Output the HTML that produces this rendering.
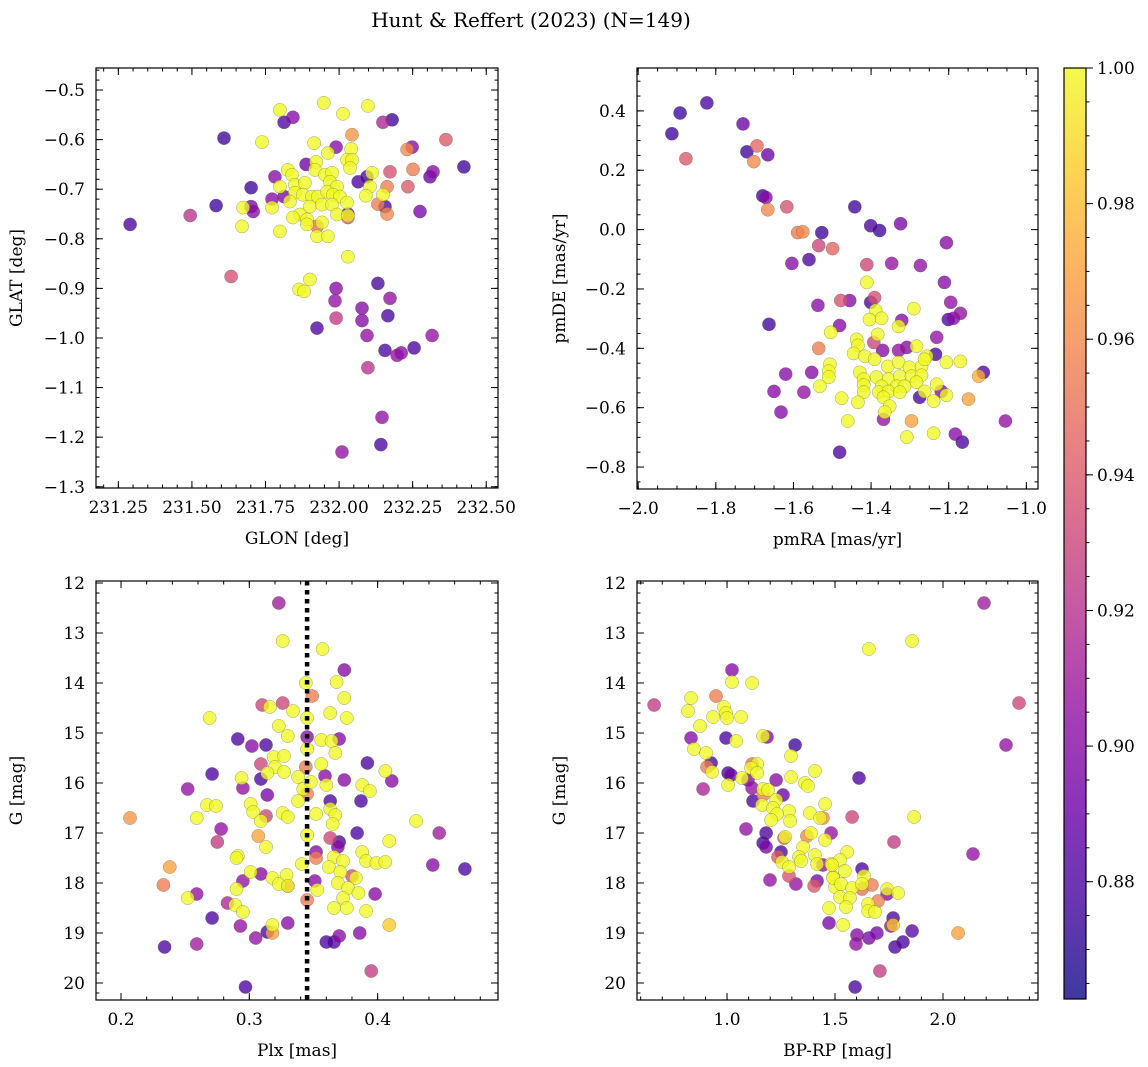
<!DOCTYPE html>
<html><head><meta charset="utf-8">
<style>
html,body{margin:0;padding:0;background:#fff;}
svg{display:block;font-family:"DejaVu Serif","Liberation Serif",serif;}
</style></head>
<body>
<svg id="fig" width="1148" height="1067" viewBox="0 0 1148 1067" xmlns="http://www.w3.org/2000/svg">
<text x="531" y="27" font-size="20" text-anchor="middle">Hunt &amp; Reffert (2023) (N=149)</text>
</svg>
<script>
// ---------- data ----------
const tlGlon=[231.29,231.494,231.609,231.582,231.633,231.701,231.701,231.708,231.813,231.843,231.782,231.772,231.813,231.888,231.99,232.044,232.065,232.095,232.173,232.231,232.248,232.149,232.18,232.251,232.234,232.163,232.319,232.309,232.275,232.132,232.156,232.163,232.03,232.03,231.925,232.363,232.424,231.99,231.986,231.99,231.925,232.078,232.078,232.095,232.098,232.132,232.173,232.166,232.156,232.197,232.211,232.255,232.316,232.146,232.142,232.01,
231.738,231.799,231.948,232.013,232.098,231.915,232.041,231.962,232.027,232.044,232.037,231.922,231.918,231.826,231.84,231.799,231.85,231.884,231.952,231.976,231.969,231.993,231.85,231.877,231.908,231.928,231.959,231.979,232.003,231.833,231.901,231.942,231.976,232.027,231.772,231.867,231.843,231.891,231.942,231.993,232.03,231.891,231.799,231.925,231.962,232.03,232.112,232.105,232.091,232.149,231.67,231.864,231.881,231.901,231.674];
const tlGlat=[-0.771,-0.753,-0.597,-0.733,-0.876,-0.697,-0.735,-0.745,-0.565,-0.555,-0.675,-0.72,-0.715,-0.65,-0.615,-0.59,-0.685,-0.675,-0.665,-0.62,-0.615,-0.565,-0.56,-0.66,-0.695,-0.695,-0.665,-0.675,-0.745,-0.73,-0.735,-0.75,-0.75,-0.757,-0.775,-0.60,-0.655,-0.90,-0.925,-0.96,-0.98,-0.94,-0.965,-0.995,-1.06,-0.89,-0.92,-0.955,-1.025,-1.035,-1.03,-1.02,-0.995,-1.16,-1.215,-1.23,
-0.605,-0.540,-0.526,-0.548,-0.532,-0.607,-0.619,-0.627,-0.641,-0.641,-0.657,-0.645,-0.661,-0.661,-0.671,-0.695,-0.691,-0.687,-0.671,-0.667,-0.685,-0.695,-0.707,-0.711,-0.715,-0.715,-0.705,-0.711,-0.715,-0.725,-0.735,-0.731,-0.731,-0.727,-0.737,-0.751,-0.757,-0.761,-0.767,-0.751,-0.753,-0.771,-0.785,-0.795,-0.795,-0.836,-0.667,-0.695,-0.713,-0.711,-0.775,-0.902,-0.906,-0.882,-0.737];
const tlProb=[0.88,0.92,0.875,0.875,0.935,0.875,0.895,0.90,0.88,0.90,0.90,0.90,0.895,0.89,0.90,0.965,0.88,0.88,0.935,0.96,0.90,0.915,0.875,0.955,0.94,0.955,0.90,0.89,0.895,0.955,0.88,0.96,0.88,0.94,0.95,0.94,0.875,0.90,0.905,0.925,0.88,0.90,0.90,0.905,0.92,0.88,0.905,0.88,0.88,0.905,0.90,0.88,0.905,0.905,0.88,0.905,
1,1,1,1,1,1,1,1,1,1,1,1,1,1,1,1,1,1,1,1,1,1,1,1,1,1,1,1,1,1,1,1,1,1,1,1,1,1,1,1,1,1,1,1,1,1,1,1,1,1,1,1,1,1,1];

const trPmra=[-1.913,-1.892,-1.823,-1.730,-1.720,-1.694,-1.702,-1.666,-1.679,-1.671,-1.666,-1.877,-1.617,-1.589,-1.576,-1.604,-1.527,-1.535,-1.499,-1.442,-1.401,-1.378,-1.324,-1.206,-1.560,-1.411,-1.347,-1.273,-1.211,-1.537,-1.478,-1.455,-1.401,-1.391,-1.195,-1.201,-1.188,-1.170,-1.481,-1.321,-1.393,-1.370,-1.329,-1.308,-1.231,-1.234,-1.535,-1.553,-1.573,-1.111,-1.275,-1.219,-1.149,-1.368,-1.296,-1.183,-1.165,-1.054,-1.481,-1.663,-1.632,-1.620,-1.650,
-1.411,-1.290,-1.388,-1.404,-1.373,-1.329,-1.504,-1.383,-1.437,-1.434,-1.445,-1.416,-1.391,-1.283,-1.257,-1.506,-1.509,-1.509,-1.532,-1.429,-1.357,-1.329,-1.301,-1.270,-1.262,-1.206,-1.170,-1.419,-1.419,-1.386,-1.355,-1.326,-1.296,-1.270,-1.419,-1.373,-1.334,-1.314,-1.283,-1.231,-1.262,-1.380,-1.355,-1.326,-1.368,-1.239,-1.206,-1.476,-1.434,-1.352,-1.365,-1.460,-1.308,-1.239,-1.123];
const trPmde=[0.323,0.393,0.427,0.356,0.262,0.282,0.229,0.252,0.114,0.108,0.067,0.239,0.077,-0.010,-0.007,-0.114,-0.010,-0.054,-0.064,0.077,0.013,-0.003,0.020,-0.044,-0.101,-0.118,-0.114,-0.121,-0.178,-0.255,-0.239,-0.239,-0.245,-0.229,-0.245,-0.303,-0.299,-0.282,-0.323,-0.306,-0.380,-0.407,-0.407,-0.397,-0.363,-0.420,-0.400,-0.481,-0.548,-0.481,-0.565,-0.545,-0.571,-0.639,-0.645,-0.689,-0.716,-0.645,-0.750,-0.319,-0.615,-0.487,-0.545,
-0.178,-0.266,-0.272,-0.303,-0.299,-0.326,-0.346,-0.353,-0.370,-0.390,-0.417,-0.427,-0.437,-0.393,-0.427,-0.454,-0.477,-0.497,-0.528,-0.481,-0.461,-0.447,-0.464,-0.461,-0.437,-0.447,-0.444,-0.504,-0.524,-0.497,-0.504,-0.494,-0.494,-0.491,-0.548,-0.528,-0.528,-0.528,-0.514,-0.521,-0.545,-0.548,-0.545,-0.548,-0.565,-0.578,-0.558,-0.568,-0.582,-0.595,-0.615,-0.645,-0.699,-0.686,-0.494];
const trProb=[0.875,0.875,0.88,0.89,0.875,0.945,0.96,0.89,0.875,0.90,0.96,0.94,0.935,0.955,0.96,0.90,0.875,0.93,0.945,0.875,0.88,0.875,0.895,0.90,0.88,0.93,0.905,0.905,0.90,0.90,0.935,0.90,0.88,0.935,0.905,0.88,0.90,0.905,0.90,0.90,0.93,0.90,0.905,0.90,0.905,0.88,0.955,0.90,0.905,0.88,0.88,0.90,0.97,0.905,0.97,0.90,0.88,0.905,0.88,0.875,0.90,0.90,0.90,
1,1,1,1,1,1,1,1,1,1,1,1,1,1,1,1,1,1,1,1,1,1,1,1,1,1,1,1,1,1,1,1,1,1,1,1,1,1,1,1,1,1,1,1,1,1,1,1,1,1,1,1,1,1,0.975];

const blPlx=[0.323,0.326,0.344,0.310,0.316,0.326,0.334,0.269,0.345,0.323,0.330,0.291,0.302,0.313,0.345,0.319,0.327,0.345,0.309,0.320,0.314,0.327,0.344,0.271,0.294,0.309,0.338,0.295,0.252,0.314,0.342,0.338,0.345,0.267,0.274,0.301,0.303,0.313,0.309,0.326,0.330,0.207,0.259,0.278,0.275,0.307,0.313,0.345,0.291,0.290,0.341,0.238,0.301,0.309,0.295,0.318,0.329,0.323,0.330,0.330,0.233,0.290,0.252,0.259,0.283,0.289,0.295,0.345,0.271,0.293,0.318,0.314,0.318,0.330,0.305,0.234,0.259,0.297,
0.357,0.374,0.368,0.349,0.374,0.363,0.376,0.356,0.364,0.370,0.367,0.392,0.356,0.406,0.359,0.411,0.374,0.348,0.360,0.388,0.394,0.363,0.387,0.363,0.367,0.352,0.365,0.430,0.448,0.363,0.384,0.409,0.370,0.369,0.352,0.388,0.352,0.366,0.391,0.373,0.399,0.406,0.443,0.468,0.362,0.371,0.380,0.383,0.351,0.369,0.377,0.353,0.385,0.398,0.373,0.366,0.376,0.391,0.409,0.370,0.386,0.360,0.366,0.395];
const blG=[12.40,13.16,14.0,14.44,14.48,14.40,14.56,14.70,14.70,14.86,15.06,15.12,15.26,15.24,15.08,15.48,15.46,15.32,15.62,15.68,15.80,15.78,15.68,15.82,15.90,15.92,15.88,16.10,16.12,16.24,16.12,16.36,16.22,16.44,16.46,16.42,16.58,16.66,16.76,16.60,16.68,16.70,16.70,16.92,17.18,17.06,17.28,17.04,17.46,17.50,17.62,17.68,17.78,17.82,17.96,17.90,17.84,18.02,18.06,18.06,18.04,18.12,18.30,18.22,18.40,18.44,18.58,18.34,18.70,18.86,18.84,18.98,19.00,18.80,19.10,19.28,19.22,20.08,
13.32,13.74,13.98,14.26,14.30,14.60,14.70,15.14,15.16,15.12,15.40,15.60,15.62,15.76,15.86,15.96,15.94,15.98,16.04,16.04,16.16,16.36,16.36,16.52,16.64,16.62,16.82,16.76,17.0,17.10,17.0,17.16,17.18,17.28,17.38,17.38,17.50,17.48,17.56,17.56,17.60,17.58,17.64,17.72,17.68,17.78,17.86,17.90,17.96,18.0,18.10,18.14,18.20,18.22,18.30,18.50,18.50,18.56,18.84,19.06,19.0,19.18,19.18,19.76];
const blProb=[0.91,1,1,0.93,1,0.93,1,1,1,1,1,0.88,0.90,0.88,0.90,1,1,1,0.93,1,1,1,0.955,0.88,1,0.88,1,0.905,0.905,0.895,1,1,0.955,1,1,1,1,0.93,1,1,1,0.965,1,0.905,0.925,0.97,1,1,1,1,1,0.97,1,0.90,0.905,1,1,1,0.94,1,0.955,1,1,0.905,0.915,1,1,0.955,0.88,0.905,1,0.88,0.97,0.90,0.905,0.88,0.91,0.88,
1,0.90,1,0.955,1,1,1,1,1,0.90,1,0.88,1,1,0.90,0.90,0.90,1,1,1,1,0.88,0.88,1,1,1,1,1,0.91,0.93,0.88,1,0.88,0.90,0.90,1,0.955,1,1,1,1,1,0.90,0.88,1,1,0.935,1,0.90,1,1,1,1,0.90,1,1,1,1,0.985,0.90,0.90,0.88,0.88,0.925];

const brBprp=[1.023,1.023,1.116,0.662,0.949,0.833,0.819,0.986,0.995,1.0,0.935,1.065,0.875,0.833,0.995,1.042,1.167,1.185,1.315,1.296,0.847,0.903,0.926,0.907,0.931,1.116,1.139,1.111,1.139,1.407,1.005,1.019,1.005,1.069,0.889,1.097,1.227,1.296,1.361,1.375,1.116,1.167,1.190,1.259,1.167,1.120,1.162,1.227,1.213,1.454,1.287,1.232,1.204,1.292,1.384,1.431,1.444,1.088,1.181,1.269,1.264,1.370,1.389,1.482,1.454,1.167,1.181,1.352,1.250,1.236,1.255,1.333,1.343,1.407,1.417,1.444,1.482,1.287,1.287,1.199,1.319,1.417,1.403,1.491,1.500,1.472,1.472,
2.190,1.657,1.857,2.352,2.292,1.611,1.579,1.866,1.773,2.139,1.556,1.523,1.486,1.546,1.625,1.634,1.491,1.528,1.579,1.625,1.671,1.625,1.741,1.741,1.792,1.523,1.569,1.699,1.653,1.551,1.653,1.685,1.537,1.769,1.769,1.759,1.857,2.070,1.602,1.597,1.657,1.694,1.778,1.815,1.708,1.593];
const brG=[13.74,13.98,14.0,14.44,14.26,14.30,14.56,14.48,14.60,14.70,14.68,14.68,14.86,15.10,15.10,15.16,15.06,15.08,15.24,15.46,15.32,15.40,15.60,15.68,15.78,15.62,15.62,15.70,15.80,15.76,15.80,15.84,16.04,15.90,16.12,15.94,15.94,15.88,16.0,16.06,16.10,16.12,16.14,16.24,16.24,16.36,16.44,16.34,16.50,16.42,16.56,16.62,16.74,16.76,16.60,16.70,16.70,16.92,17.0,17.08,17.10,17.06,17.0,17.0,17.14,17.20,17.28,17.28,17.38,17.48,17.58,17.48,17.56,17.44,17.62,17.64,17.62,17.68,17.86,17.94,18.02,17.96,18.06,17.88,18.08,18.50,18.80,
12.40,13.32,13.16,14.40,15.24,15.90,16.68,16.68,17.18,17.42,17.38,17.54,17.64,17.76,17.72,17.86,17.90,18.02,18.10,18.02,18.04,18.12,18.12,18.22,18.20,18.28,18.30,18.36,18.42,18.48,18.56,18.58,18.84,18.70,18.84,18.86,18.96,19.0,19.04,19.22,19.10,19.0,19.28,19.18,19.76,20.08];
const brProb=[0.90,1,1,0.925,0.955,1,1,1,1,1,1,1,1,0.90,0.88,1,1,0.90,0.875,1,1,1,0.88,0.955,1,0.95,1,1,1,1,0.88,0.89,1,1,0.915,0.90,0.90,1,1,1,0.905,1,1,0.89,0.955,0.88,1,1,1,1,1,1,1,1,1,1,0.96,0.905,0.88,1,0.94,0.96,1,0.905,1,0.88,0.895,1,0.88,0.94,1,1,1,1,1,0.905,1,1,0.935,0.905,0.905,0.895,0.94,1,1,1,0.895,
0.91,1,1,0.93,0.905,0.88,0.93,1,0.925,0.905,1,1,1,1,0.88,1,1,1,1,1,0.955,0.95,1,0.90,1,1,1,0.955,1,1,1,1,1,0.88,0.985,0.905,0.885,0.97,0.90,0.905,0.895,0.895,0.88,0.88,0.925,0.88];

const tlXTicks=[231.25,231.50,231.75,232.00,232.25,232.50];
const tlYTicks=[-0.5,-0.6,-0.7,-0.8,-0.9,-1.0,-1.1,-1.2,-1.3];
const trXTicks=[-2.0,-1.8,-1.6,-1.4,-1.2,-1.0];
const trYTicks=[0.4,0.2,0.0,-0.2,-0.4,-0.6,-0.8];
const blXTicks=[0.2,0.3,0.4];
const gTicks=[12,13,14,15,16,17,18,19,20];
const brXTicks=[1.0,1.5,2.0];
const cbTicks=[0.88,0.90,0.92,0.94,0.96,0.98,1.00];
const plxLine=[0.345];
const probMin=0.8627, probMax=1.0;

// ---------- drawing ----------
const NS='http://www.w3.org/2000/svg';
const fig=document.getElementById('fig');
const FS=17;
function mk(tag,attrs,parent){const e=document.createElementNS(NS,tag);for(const k in attrs)e.setAttribute(k,attrs[k]);(parent||fig).appendChild(e);return e;}
const plasma=[[13,8,135],[65,4,157],[106,0,168],[143,13,164],[177,42,144],[204,71,120],[225,100,98],[242,132,75],[252,166,54],[252,206,37],[240,249,33]];
function cmap(v){let t=(v-probMin)/(probMax-probMin);t=Math.max(0,Math.min(1,t));const f=t*10,i=Math.min(9,Math.floor(f)),r=f-i;const a=plasma[i],b=plasma[i+1];return 'rgb('+[0,1,2].map(k=>Math.round(a[k]+(b[k]-a[k])*r)).join(',')+')';}
function fmt(v,d){const s=Math.abs(v).toFixed(d);return (v<0&&Math.abs(v)>1e-9?'\u2212':'')+s;}

function panel(o){
  const g=mk('g',{});
  
  
  const sx=v=>o.x0+(v-o.xmin)/(o.xmax-o.xmin)*(o.x1-o.x0);
  const sy=v=>o.y1-(v-o.ymin)/(o.ymax-o.ymin)*(o.y1-o.y0);
  const clip=mk('clipPath',{id:'c'+o.name},g);
  mk('rect',{x:o.x0,y:o.y0,width:o.x1-o.x0,height:o.y1-o.y0},clip);
  const pts=mk('g',{'clip-path':'url(#c'+o.name+')'},g);
  
  
  const idx=o.xs.map((_,i)=>i).sort((a,b)=>o.ps[a]-o.ps[b]);
  idx.forEach(i=>{
    const c=mk('circle',{cx:sx(o.xs[i]).toFixed(1),cy:sy(o.ys[i]).toFixed(1),r:6.6,fill:cmap(o.ps[i]),'fill-opacity':0.78,stroke:'#5a5a3a','stroke-width':0.5,'stroke-opacity':0.55},pts);
    
    
  });
  if(o.vline){o.vline.forEach(v=>{const l=mk('line',{x1:sx(v),x2:sx(v),y1:o.y0,y2:o.y1,stroke:'#000','stroke-width':4.5,'stroke-dasharray':'4.5,4.5'},g);
    
    });}
  const fr=mk('rect',{x:o.x0,y:o.y0,width:o.x1-o.x0,height:o.y1-o.y0,fill:'none',stroke:'#000','stroke-width':1.2},g);
  
  
  const tk=mk('g',{stroke:'#000','stroke-width':1},g);
  
  
  function xt(v,len){const x=sx(v);if(x<o.x0-0.5||x>o.x1+0.5)return;mk('line',{x1:x,x2:x,y1:o.y1,y2:o.y1-len},tk);mk('line',{x1:x,x2:x,y1:o.y0,y2:o.y0+len},tk);}
  function yt(v,len){const y=sy(v);if(y<o.y0-0.5||y>o.y1+0.5)return;mk('line',{x1:o.x0,x2:o.x0+len,y1:y,y2:y},tk);mk('line',{x1:o.x1,x2:o.x1-len,y1:y,y2:y},tk);}
  const lo=Math.min(o.xmin,o.xmax),hi=Math.max(o.xmin,o.xmax);
  for(let k=Math.ceil(lo/o.xminor-1e-6);k*o.xminor<=hi+1e-9;k++)xt(k*o.xminor,3.5);
  const ylo=Math.min(o.ymin,o.ymax),yhi=Math.max(o.ymin,o.ymax);
  for(let k=Math.ceil(ylo/o.yminor-1e-6);k*o.yminor<=yhi+1e-9;k++)yt(k*o.yminor,3.5);
  o.xticks.forEach(v=>{xt(v,7);const t=mk('text',{x:sx(v),y:o.y1+25,'font-size':FS,'text-anchor':'middle'},g);t.textContent=fmt(v,o.xd);
    });
  o.yticks.forEach(v=>{yt(v,7);const t=mk('text',{x:o.x0-11,y:sy(v)+6,'font-size':FS,'text-anchor':'end'},g);t.textContent=fmt(v,o.yd);
    });
  const xl=mk('text',{x:(o.x0+o.x1)/2,y:o.y1+56,'font-size':FS,'text-anchor':'middle'},g);xl.textContent=o.xlabel;
  
  const yl=mk('text',{x:0,y:0,'font-size':FS,'text-anchor':'middle',transform:'translate('+o.ylx+','+((o.y0+o.y1)/2)+') rotate(-90)'},g);yl.textContent=o.ylabel;
  
}

panel({name:'glon-glat-panel',x0:96,x1:498,y0:68,y1:488,xmin:231.174,xmax:232.54,ymin:-1.3025,ymax:-0.4556,xs:tlGlon,ys:tlGlat,ps:tlProb,xticks:tlXTicks,yticks:tlYTicks,xminor:0.05,yminor:0.02,xd:2,yd:1,xlabel:'GLON [deg]',ylabel:'GLAT [deg]',ylx:22});
panel({name:'proper-motion-panel',x0:637,x1:1038,y0:68,y1:489,xmin:-2.003,xmax:-0.970,ymin:-0.874,ymax:0.5445,xs:trPmra,ys:trPmde,ps:trProb,xticks:trXTicks,yticks:trYTicks,xminor:0.05,yminor:0.05,xd:1,yd:1,xlabel:'pmRA [mas/yr]',ylabel:'pmDE [mas/yr]',ylx:565});
panel({name:'parallax-magnitude-panel',x0:96,x1:498,y0:581,y1:1000,xmin:0.1805,xmax:0.4938,ymin:20.34,ymax:11.96,xs:blPlx,ys:blG,ps:blProb,xticks:blXTicks,yticks:gTicks,xminor:0.02,yminor:0.2,xd:1,yd:0,xlabel:'Plx [mas]',ylabel:'G [mag]',ylx:22,vline:plxLine});
panel({name:'color-magnitude-panel',x0:637,x1:1038,y0:581,y1:1000,xmin:0.583,xmax:2.44,ymin:20.34,ymax:11.96,xs:brBprp,ys:brG,ps:brProb,xticks:brXTicks,yticks:gTicks,xminor:0.1,yminor:0.2,xd:1,yd:0,xlabel:'BP-RP [mag]',ylabel:'G [mag]',ylx:565});

// colorbar
(function(){
  const cx0=1064,cx1=1086,cy0=68,cy1=999;
  const g=mk('g',{});
  
  
  const defs=mk('defs',{},g);
  const lg=mk('linearGradient',{id:'cbgrad',x1:0,y1:1,x2:0,y2:0},defs);
  plasma.forEach((c,i)=>mk('stop',{offset:(i/10),'stop-color':'rgb('+c.join(',')+')','stop-opacity':0.8},lg));
  mk('rect',{x:cx0,y:cy0,width:cx1-cx0,height:cy1-cy0,fill:'url(#cbgrad)',stroke:'#000','stroke-width':1.2},g);
  const sy=v=>cy1-(v-probMin)/(probMax-probMin)*(cy1-cy0);
  for(let k=Math.ceil(probMin/0.005);k*0.005<=probMax+1e-9;k++){const y=sy(k*0.005);mk('line',{x1:cx1,x2:cx1+3.5,y1:y,y2:y,stroke:'#000','stroke-width':1},g);}
  cbTicks.forEach(v=>{const y=sy(v);mk('line',{x1:cx1,x2:cx1+7,y1:y,y2:y,stroke:'#000','stroke-width':1},g);
    const t=mk('text',{x:cx1+11,y:y+6,'font-size':FS},g);t.textContent=v.toFixed(2);
    });
})();
</script>
</body></html>
